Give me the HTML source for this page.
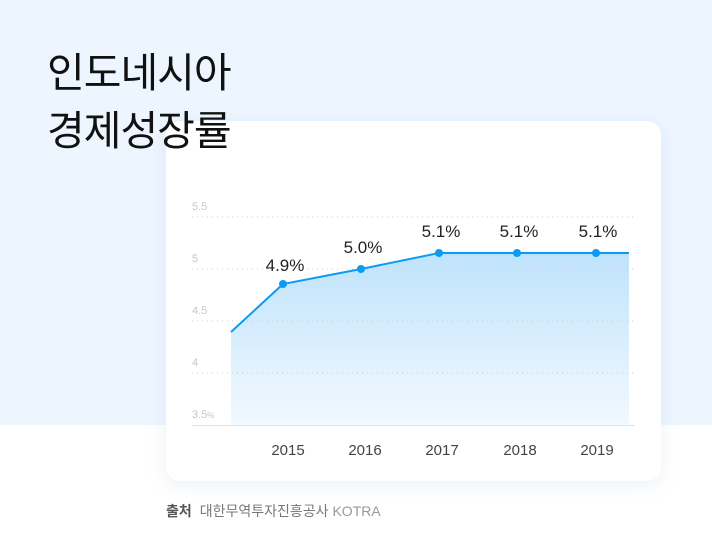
<!DOCTYPE html><html><head><meta charset="utf-8"><style>
body{margin:0;width:712px;height:560px;position:relative;background:#fff;font-family:"Liberation Sans","Noto Sans CJK KR",sans-serif;overflow:hidden}
.top{position:absolute;left:0;top:0;width:712px;height:425px;background:#edf6ff}
.title{position:absolute;left:47px;top:44px;font-size:41px;line-height:58px;color:#111;font-weight:400;letter-spacing:-1px;z-index:5}
.card{position:absolute;left:166px;top:121px;width:495px;height:360px;background:#fff;border-radius:14px;box-shadow:0 4px 18px rgba(120,160,200,.15)}
.src{position:absolute;left:166px;top:501px;font-size:14px;color:#777}
.src b{color:#555;margin-right:8px}
</style></head><body>
<div class="top"></div>
<div class="card"></div>
<div class="title">인도네시아<br>경제성장률</div>
<svg style="position:absolute;left:0;top:0" width="712" height="560">
<defs><linearGradient id="g" x1="0" y1="0" x2="0" y2="1"><stop offset="0" stop-color="#bfe3fc"/><stop offset="1" stop-color="#f2f9ff"/></linearGradient></defs>
<polygon points="231,332 283,284 361,269 439,253 517,253 596,253 629,253 629,425 231,425" fill="url(#g)"/>
<g stroke="#ccc" stroke-dasharray="1,4"><line x1="192" y1="217" x2="635" y2="217"/><line x1="192" y1="269" x2="635" y2="269"/><line x1="192" y1="321" x2="635" y2="321"/><line x1="192" y1="373" x2="635" y2="373"/></g>
<line x1="192" y1="425.5" x2="635" y2="425.5" stroke="#e2e2e2"/>
<g fill="#c6c6c6" font-size="11"><text x="192" y="210">5.5</text><text x="192" y="262">5</text><text x="192" y="314">4.5</text><text x="192" y="366">4</text><text x="192" y="418">3.5<tspan font-size="8">%</tspan></text></g>
<polyline points="231,332 283,284 361,269 439,253 517,253 596,253 629,253" fill="none" stroke="#0a9cf5" stroke-width="2"/>
<g fill="#0a9cf5"><circle cx="283" cy="284" r="4"/><circle cx="361" cy="269" r="4"/><circle cx="439" cy="253" r="4"/><circle cx="517" cy="253" r="4"/><circle cx="596" cy="253" r="4"/></g>
<g fill="#222" font-size="17" text-anchor="middle"><text x="285" y="271">4.9%</text><text x="363" y="253">5.0%</text><text x="441" y="237">5.1%</text><text x="519" y="237">5.1%</text><text x="598" y="237">5.1%</text></g>
<g fill="#444" font-size="15" text-anchor="middle"><text x="288" y="455">2015</text><text x="365" y="455">2016</text><text x="442" y="455">2017</text><text x="520" y="455">2018</text><text x="597" y="455">2019</text></g>
</svg>
<div class="src"><b>출처</b>대한무역투자진흥공사 <span style="color:#999">KOTRA</span></div>
</body></html>
